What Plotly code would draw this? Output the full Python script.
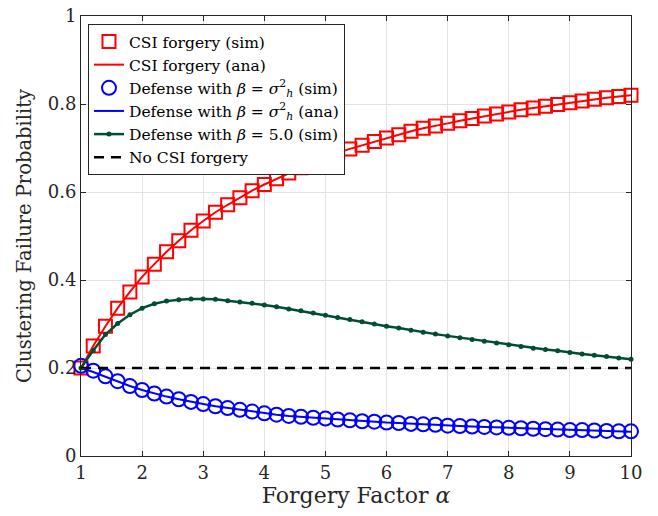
import plotly.graph_objects as go

alpha = [round(1 + 0.2 * i, 1) for i in range(46)]

csi_sim = [0.200, 0.250, 0.295, 0.336, 0.373, 0.407, 0.436, 0.464, 0.489, 0.513,
           0.534, 0.554, 0.571, 0.587, 0.603, 0.617, 0.630, 0.643, 0.655, 0.667,
           0.678, 0.689, 0.698, 0.706, 0.715, 0.723, 0.730, 0.738, 0.745, 0.750,
           0.756, 0.762, 0.767, 0.773, 0.777, 0.782, 0.787, 0.791, 0.795, 0.799,
           0.803, 0.807, 0.811, 0.814, 0.817, 0.820]
csi_ana = list(csi_sim)

def_sim = [0.205, 0.194, 0.181, 0.170, 0.159, 0.150, 0.142, 0.135, 0.129, 0.123,
           0.118, 0.113, 0.109, 0.105, 0.101, 0.097, 0.094, 0.091, 0.089, 0.087,
           0.085, 0.083, 0.081, 0.079, 0.078, 0.076, 0.075, 0.073, 0.072, 0.071,
           0.069, 0.068, 0.067, 0.066, 0.065, 0.064, 0.063, 0.062, 0.061, 0.060,
           0.059, 0.059, 0.058, 0.057, 0.056, 0.056]
def_ana = [0.200, 0.191, 0.180, 0.169, 0.159, 0.150, 0.142, 0.135, 0.129, 0.123,
           0.118, 0.113, 0.109, 0.105, 0.101, 0.097, 0.094, 0.091, 0.089, 0.087,
           0.085, 0.083, 0.081, 0.079, 0.078, 0.076, 0.075, 0.073, 0.072, 0.071,
           0.069, 0.068, 0.067, 0.066, 0.065, 0.064, 0.063, 0.062, 0.061, 0.060,
           0.059, 0.059, 0.058, 0.057, 0.056, 0.055]

def5_sim = [0.200, 0.240, 0.276, 0.301, 0.321, 0.336, 0.346, 0.352, 0.355, 0.357,
            0.357, 0.356, 0.353, 0.350, 0.347, 0.343, 0.339, 0.334, 0.330, 0.325,
            0.320, 0.315, 0.310, 0.305, 0.300, 0.295, 0.291, 0.286, 0.281, 0.277,
            0.273, 0.269, 0.265, 0.261, 0.257, 0.253, 0.249, 0.245, 0.242, 0.239,
            0.235, 0.232, 0.229, 0.226, 0.223, 0.220]

no_forgery = [0.2] * len(alpha)

x_ticks = [1, 2, 3, 4, 5, 6, 7, 8, 9, 10]
y_ticks = [0, 0.2, 0.4, 0.6, 0.8, 1]
y_tick_labels = ["0", "0.2", "0.4", "0.6", "0.8", "1"]

RED = "#ff0000"
BLUE = "#0000ff"
GREEN = "#004d33"
FONT = "DejaVu Serif"

fig = go.Figure()
fig.add_trace(go.Scatter(
    x=alpha, y=csi_sim, mode="markers", name="CSI forgery (sim)",
    marker=dict(symbol="square-open", size=13, color=RED, line=dict(width=2, color=RED)),
    cliponaxis=False))
fig.add_trace(go.Scatter(
    x=alpha, y=csi_ana, mode="lines", name="CSI forgery (ana)",
    line=dict(color=RED, width=2)))
fig.add_trace(go.Scatter(
    x=alpha, y=def_sim, mode="markers",
    name="Defense with <i>β</i> = <i>σ</i><sup>2</sup><sub><i>h</i></sub> (sim)",
    marker=dict(symbol="circle-open", size=14, color=BLUE, line=dict(width=2, color=BLUE)),
    cliponaxis=False))
fig.add_trace(go.Scatter(
    x=alpha, y=def_ana, mode="lines",
    name="Defense with <i>β</i> = <i>σ</i><sup>2</sup><sub><i>h</i></sub> (ana)",
    line=dict(color=BLUE, width=2)))
fig.add_trace(go.Scatter(
    x=alpha, y=def5_sim, mode="lines+markers",
    name="Defense with <i>β</i> = 5.0 (sim)",
    line=dict(color=GREEN, width=2.5),
    marker=dict(symbol="circle", size=5, color=GREEN),
    cliponaxis=False))
fig.add_trace(go.Scatter(
    x=alpha, y=no_forgery, mode="lines", name="No CSI forgery",
    line=dict(color="black", width=2.5, dash="10px,7px")))

axis_common = dict(
    showline=True, linecolor="#262626", linewidth=1, mirror="ticks",
    ticks="inside", ticklen=5, tickcolor="#262626",
    showgrid=True, gridcolor="#e3e3e3", gridwidth=1, automargin=False,
    zeroline=False, tickfont=dict(family=FONT, size=18, color="#262626"),
)

fig.update_layout(
    width=658, height=516,
    margin=dict(l=81, r=27, t=16, b=60),
    paper_bgcolor="white", plot_bgcolor="white",
    font=dict(family=FONT, color="#262626"),
    xaxis=dict(range=[1, 10], tickvals=x_ticks,
               title=dict(text="Forgery Factor <i>α</i>", font=dict(family=FONT, size=22, color="#262626"), standoff=6),
               **axis_common),
    yaxis=dict(range=[0, 1], tickvals=y_ticks, ticktext=y_tick_labels,
               title=dict(text="Clustering Failure Probability", font=dict(family=FONT, size=19.5, color="#262626"), standoff=10),
               **axis_common),
    legend=dict(x=0.0127, y=0.982, xanchor="left", yanchor="top",
                bgcolor="white", bordercolor="#262626", borderwidth=1,
                font=dict(family=FONT, size=15.5, color="black"),
                tracegroupgap=0, itemwidth=30),
    showlegend=True,
)

fig.write_html("out.html")
